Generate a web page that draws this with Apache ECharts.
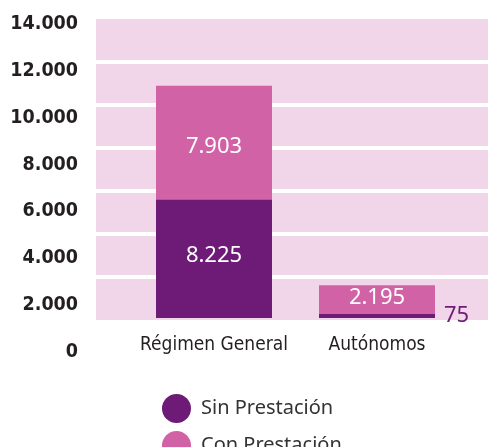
<!DOCTYPE html>
<html>
<head>
<meta charset="utf-8">
<style>html,body{margin:0;padding:0;background:#fff;}#c{width:488px;height:447px;}</style>
<script src="https://cdn.jsdelivr.net/npm/echarts@6/dist/echarts.min.js"></script>
</head>
<body>
<div id="c"></div>
<script>
const categories = ['Régimen General', 'Autónomos'];
const sinPrestacion = [8225, 75];
const conPrestacion = [7903, 2195];
const seriesNames = ['Sin Prestación', 'Con Prestación'];
const tickMin = 0, tickMax = 14000, tickStep = 2000;

const DARK = '#6e1b77', PINK = '#d262a6', BG = '#f1d5e9', TXT = '#231f20';
const fmt = v => String(v).replace(/\B(?=(\d{3})+(?!\d))/g, '.');
const condensed = "'DejaVu Sans Condensed', 'Liberation Sans', sans-serif";
const humanist = "'Noto Sans', 'Open Sans', sans-serif";

const legendCommon = {
  orient: 'vertical', left: 157,
  itemWidth: 29, itemHeight: 29, icon: 'circle',
  textStyle: {fontFamily: humanist, fontSize: 20, color: '#333', padding: [0, 0, 0, 5]}
};

const chart = echarts.init(document.getElementById('c'), null, {renderer: 'canvas'});
chart.setOption({
  animation: false,
  backgroundColor: '#fff',
  legend: [
    Object.assign({}, legendCommon, {data: [seriesNames[0]], top: 389}),
    Object.assign({}, legendCommon, {data: [seriesNames[1]], top: 426})
  ],
  grid: [
    {left: 96, right: 0, top: 19, height: 301, show: true, backgroundColor: BG, borderWidth: 0},
    {left: 132.5, width: 326, top: 20, height: 298},
    {left: 96, width: 1, top: 24, height: 328}
  ],
  xAxis: [
    {gridIndex: 0, type: 'category', data: categories, show: false},
    {gridIndex: 1, type: 'category', data: categories,
      axisLine: {show: false}, axisTick: {show: false},
      axisLabel: {interval: 0, fontFamily: condensed, fontSize: 19, color: TXT, margin: 18}},
    {gridIndex: 2, type: 'category', data: categories, show: false}
  ],
  yAxis: [
    {gridIndex: 0, type: 'value', min: tickMin, max: tickMax, interval: tickStep,
      axisLine: {show: false}, axisTick: {show: false}, axisLabel: {show: false},
      splitLine: {show: true, showMinLine: false, showMaxLine: false, lineStyle: {color: '#fff', width: 4}}},
    {gridIndex: 1, type: 'value', min: 0, max: 20700, show: false, splitLine: {show: false}},
    {gridIndex: 2, type: 'value', min: tickMin, max: tickMax, interval: tickStep,
      axisLine: {show: false}, axisTick: {show: false}, splitLine: {show: false},
      axisLabel: {fontFamily: condensed, fontWeight: 'bold', fontSize: 19.5, color: TXT, margin: 18, formatter: fmt}}
  ],
  series: [
    {
      name: seriesNames[0], type: 'bar', stack: 'total', xAxisIndex: 1, yAxisIndex: 1,
      barWidth: 116, barMinHeight: 4, z: 3, itemStyle: {color: DARK},
      label: {show: true, position: 'inside', offset: [0, -3], color: '#fff', fontFamily: humanist, fontSize: 22, formatter: p => fmt(p.value)},
      data: sinPrestacion.map((v, i) => i === 1
        ? {value: v, label: {position: 'right', distance: 9, offset: [0, 0], color: DARK}}
        : v)
    },
    {
      name: seriesNames[1], type: 'bar', stack: 'total', xAxisIndex: 1, yAxisIndex: 1,
      barWidth: 116, z: 2, itemStyle: {color: PINK},
      label: {show: true, position: 'inside', offset: [0, 4], color: '#fff', fontFamily: humanist, fontSize: 22, formatter: p => fmt(p.value)},
      data: conPrestacion.map((v, i) => i === 1 ? {value: v, label: {offset: [0, -3]}} : v)
    }
  ]
});
</script>
</body>
</html>
